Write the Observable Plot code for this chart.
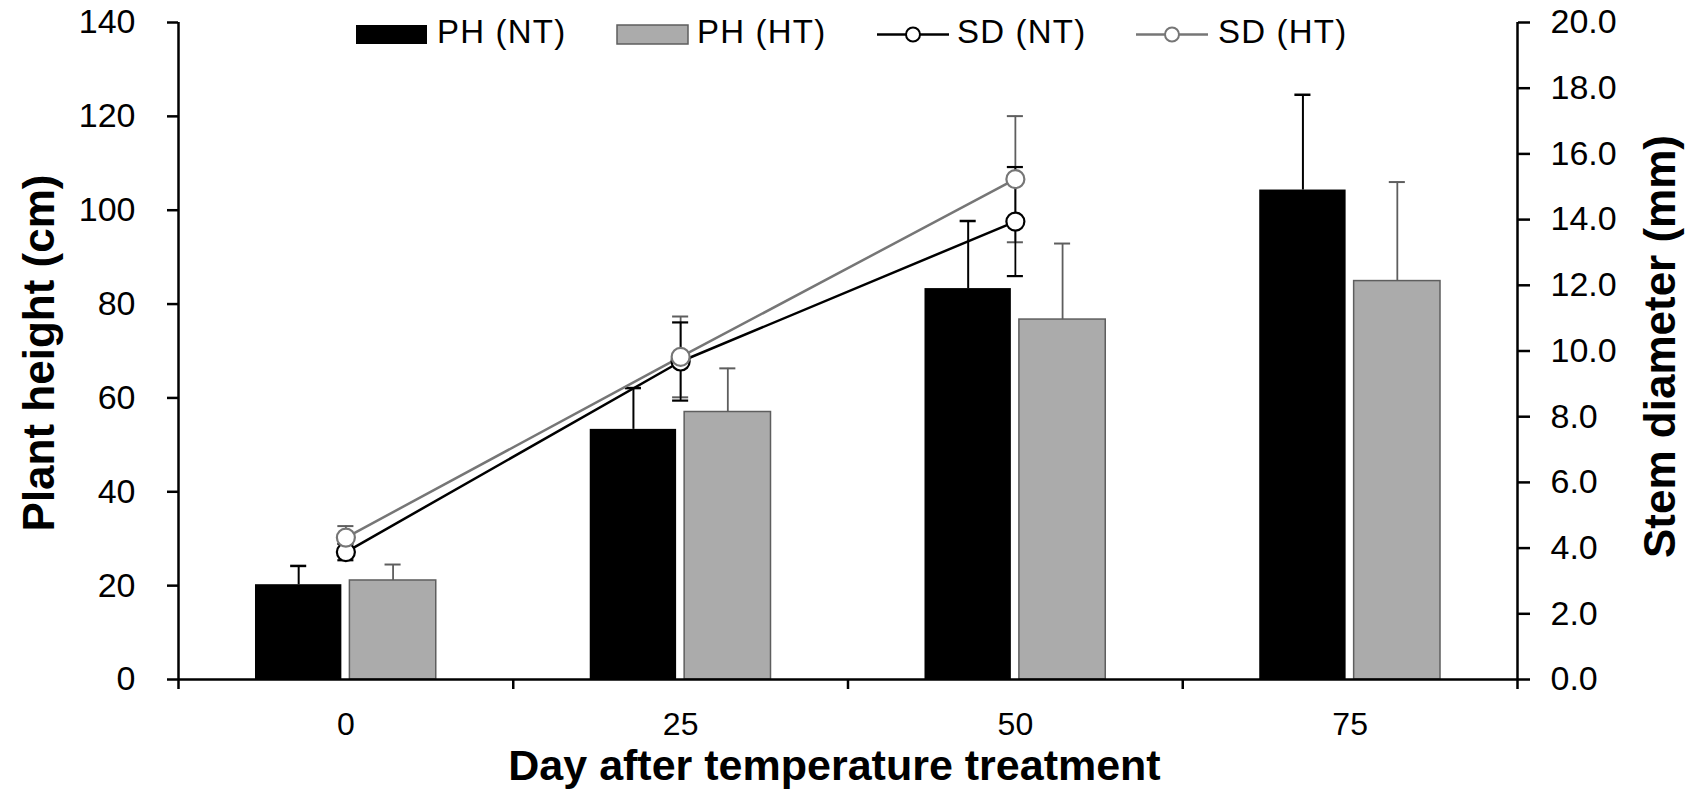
<!DOCTYPE html>
<html>
<head>
<meta charset="utf-8">
<script src="https://cdn.jsdelivr.net/npm/d3@7"></script>
<script src="https://cdn.jsdelivr.net/npm/@observablehq/plot@0.6"></script>
<style>
  html, body { margin: 0; padding: 0; background: #fff; }
  #chart { width: 1694px; height: 808px; }
</style>
</head>
<body>
<div id="chart"></div>
<script>
// ---- Data ----
const days = [0, 25, 50, 75];
const phNT = [20.2, 53.3, 83.3, 104.3];
const phNTerr = [4.0, 8.8, 14.4, 20.3];
const phHT = [21.1, 57.0, 76.7, 84.9];
const phHTerr = [3.4, 9.3, 16.2, 21.1];

const sdDays = [0, 25, 50];
const sdNT = [3.88, 9.68, 13.94];
const sdNTerr = [0.25, 1.19, 1.66];
const sdHT = [4.32, 9.82, 15.23];
const sdHTerr = [0.35, 1.23, 1.92];

const leftTicks = [0, 20, 40, 60, 80, 100, 120, 140];
const rightTicks = [0, 2, 4, 6, 8, 10, 12, 14, 16, 18, 20];
const legendLabels = ["PH (NT)", "PH (HT)", "SD (NT)", "SD (HT)"];
const xTitle = "Day after temperature treatment";
const yTitleLeft = "Plant height (cm)";
const yTitleRight = "Stem diameter (mm)";

// ---- Derived tables ----
const yMax = 140, sdMax = 20, k = yMax / sdMax;
const ph = days.map((d, i) => ({day: d, nt: phNT[i], ntErr: phNTerr[i], ht: phHT[i], htErr: phHTerr[i]}));
const sd = [
  ...sdDays.map((d, i) => ({day: d, s: "NT", v: sdNT[i], e: sdNTerr[i]})),
  ...sdDays.map((d, i) => ({day: d, s: "HT", v: sdHT[i], e: sdHTerr[i]}))
];
const sdN = sd.filter(d => d.s === "NT"), sdH = sd.filter(d => d.s === "HT");
const bounds = [days[0] - 12.5, ...days.map(d => d + 12.5)];

const BLACK = "#000", GRAYFILL = "#ababab", GRAYSTROKE = "#5e5e5e", GRAYLINE = "#767676";
const off1 = 6.75, off0 = 0.3, cap = 0.6;
const cNT = d => d.day - (off1 + off0) / 2, cHT = d => d.day + (off1 + off0) / 2;

const FONT = "'Liberation Sans', Arial, Helvetica, sans-serif";

const chart = Plot.plot({
  width: 1694, height: 808,
  marginLeft: 178, marginRight: 177, marginTop: 22, marginBottom: 129,
  style: {fontFamily: FONT, color: "#000", background: "#fff"},
  x: {domain: [bounds[0], bounds[bounds.length - 1]]},
  y: {domain: [0, yMax]},
  marks: [
    // bars
    Plot.rect(ph, {x1: d => d.day - off1, x2: d => d.day - off0, y1: 0, y2: "nt", fill: BLACK}),
    Plot.rect(ph, {x1: d => d.day + off0, x2: d => d.day + off1, y1: 0, y2: "ht", fill: GRAYFILL, stroke: GRAYSTROKE, strokeWidth: 1.5}),
    // bar error bars (upward)
    Plot.ruleX(ph, {x: cNT, y1: "nt", y2: d => d.nt + d.ntErr, stroke: BLACK, strokeWidth: 2}),
    Plot.ruleY(ph, {y: d => d.nt + d.ntErr, x1: d => cNT(d) - cap, x2: d => cNT(d) + cap, stroke: BLACK, strokeWidth: 2.5}),
    Plot.ruleX(ph, {x: cHT, y1: "ht", y2: d => d.ht + d.htErr, stroke: GRAYSTROKE, strokeWidth: 1.8}),
    Plot.ruleY(ph, {y: d => d.ht + d.htErr, x1: d => cHT(d) - cap, x2: d => cHT(d) + cap, stroke: GRAYSTROKE, strokeWidth: 2}),
    // axis lines
    Plot.ruleY([0], {stroke: BLACK, strokeWidth: 2.5}),
    Plot.ruleX([bounds[0], bounds[bounds.length - 1]], {y1: 0, y2: yMax, stroke: BLACK, strokeWidth: 2.5}),
    // SD lines
    Plot.line(sdN, {x: "day", y: d => d.v * k, stroke: BLACK, strokeWidth: 2.5}),
    Plot.line(sdH, {x: "day", y: d => d.v * k, stroke: GRAYLINE, strokeWidth: 2.5}),
    // SD error bars
    Plot.ruleX(sdH, {x: "day", y1: d => (d.v - d.e) * k, y2: d => (d.v + d.e) * k, stroke: GRAYSTROKE, strokeWidth: 1.8}),
    Plot.ruleY(sdH, {y: d => (d.v + d.e) * k, x1: d => d.day - cap, x2: d => d.day + cap, stroke: GRAYSTROKE, strokeWidth: 2}),
    Plot.ruleY(sdH, {y: d => (d.v - d.e) * k, x1: d => d.day - cap, x2: d => d.day + cap, stroke: GRAYSTROKE, strokeWidth: 2}),
    Plot.ruleX(sdN, {x: "day", y1: d => (d.v - d.e) * k, y2: d => (d.v + d.e) * k, stroke: BLACK, strokeWidth: 1.8}),
    Plot.ruleY(sdN, {y: d => (d.v + d.e) * k, x1: d => d.day - cap, x2: d => d.day + cap, stroke: BLACK, strokeWidth: 2.2}),
    Plot.ruleY(sdN, {y: d => (d.v - d.e) * k, x1: d => d.day - cap, x2: d => d.day + cap, stroke: BLACK, strokeWidth: 2.2}),
    // SD markers
    Plot.dot(sdN, {x: "day", y: d => d.v * k, r: 9, fill: "#fff", stroke: BLACK, strokeWidth: 2.2}),
    Plot.dot(sdH, {x: "day", y: d => d.v * k, r: 9, fill: "#fff", stroke: GRAYLINE, strokeWidth: 2.2}),
    // axes
    Plot.axisY({ticks: leftTicks, anchor: "left", tickSize: 11, tickPadding: 32, fontSize: 34, strokeWidth: 2.5, label: null}),
    Plot.axisY({ticks: rightTicks.map(v => v * k), anchor: "right", tickSize: 12, tickPadding: 21, fontSize: 34, strokeWidth: 2.5,
      tickFormat: v => (v / k).toFixed(1), label: null}),
    Plot.axisX({ticks: bounds, tickSize: 10, tickFormat: () => "", strokeWidth: 2.5, label: null}),
    Plot.axisX({ticks: days, tickSize: 0, tickPadding: 33, fontSize: 32, label: null})
  ]
});

document.getElementById("chart").appendChild(chart);

// ---- Titles and legend (real SVG text) ----
const svg = d3.select(chart);
svg.append("text")
  .attr("transform", "translate(53.5,353) rotate(-90)")
  .attr("text-anchor", "middle").attr("font-size", 44).attr("font-weight", "bold")
  .attr("font-family", FONT).attr("fill", "#000").text(yTitleLeft);
svg.append("text")
  .attr("transform", "translate(1675,346.5) rotate(-90)")
  .attr("text-anchor", "middle").attr("font-size", 44).attr("font-weight", "bold")
  .attr("font-family", FONT).attr("fill", "#000").text(yTitleRight);
svg.append("text")
  .attr("x", 834.5).attr("y", 780)
  .attr("text-anchor", "middle").attr("font-size", 43).attr("font-weight", "bold")
  .attr("font-family", FONT).attr("fill", "#000").text(xTitle);

const lg = svg.append("g").attr("font-family", FONT).attr("font-size", 33)
  .attr("fill", "#000").attr("text-anchor", "start");
const items = [
  {type: "bar", fill: BLACK, stroke: "none", x: 356, tx: 437},
  {type: "bar", fill: GRAYFILL, stroke: GRAYSTROKE, x: 617, tx: 697},
  {type: "line", color: BLACK, x: 877, tx: 957},
  {type: "line", color: GRAYLINE, x: 1136, tx: 1218}
];
items.forEach((it, i) => {
  if (it.type === "bar") {
    lg.append("rect").attr("x", it.x).attr("y", 25).attr("width", 71).attr("height", 19)
      .attr("fill", it.fill).attr("stroke", it.stroke).attr("stroke-width", 1.5);
  } else {
    lg.append("line").attr("x1", it.x).attr("x2", it.x + 72).attr("y1", 34.5).attr("y2", 34.5)
      .attr("stroke", it.color).attr("stroke-width", 2.5);
    lg.append("circle").attr("cx", it.x + 36).attr("cy", 34.5).attr("r", 7)
      .attr("fill", "#fff").attr("stroke", it.color).attr("stroke-width", 2);
  }
  lg.append("text").attr("x", it.tx).attr("y", 43).attr("text-anchor", "start")
    .attr("letter-spacing", 1.2).text(legendLabels[i]);
});
</script>
</body>
</html>
